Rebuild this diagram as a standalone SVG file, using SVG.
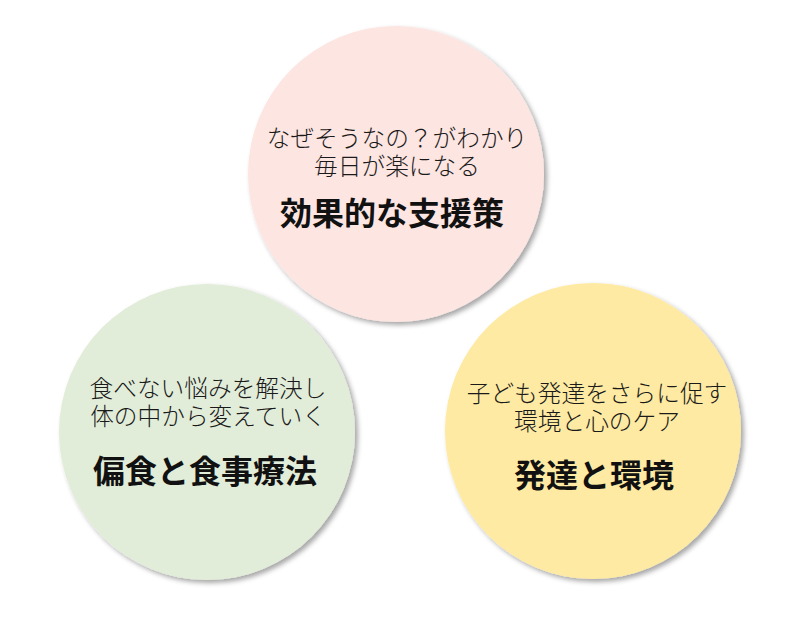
<svg xmlns="http://www.w3.org/2000/svg" width="800" height="628" viewBox="0 0 800 628">
<defs>
<filter id="sh" x="-20%" y="-20%" width="140%" height="140%">
<feDropShadow dx="3" dy="3" stdDeviation="2.5" flood-color="#000" flood-opacity="0.35"/>
</filter>
</defs>
<style>
.c{filter:url(#sh);}
.s{font-family:"Noto Sans CJK JP","Noto Sans CJK SC",sans-serif;font-size:23.7px;font-weight:300;fill:#1a1a1a;text-anchor:middle;}
.t{font-family:"Noto Sans CJK JP","Noto Sans CJK SC",sans-serif;font-size:32px;font-weight:bold;fill:#111;text-anchor:middle;}
</style>
<rect width="800" height="628" fill="#fff"/>
<g id="connectors"></g>
<g id="node-top">
<circle class="c" cx="396" cy="174" r="148" fill="#FDE5E1"/>
<text class="s" x="397" y="147">なぜそうなの？がわかり</text>
<text class="s" x="397" y="175">毎日が楽になる</text>
<text class="t" x="392" y="225">効果的な支援策</text>
</g>
<g id="node-left">
<circle class="c" cx="207" cy="432" r="148" fill="#E2EDD9"/>
<text class="s" x="208" y="397">食べない悩みを解決し</text>
<text class="s" x="208" y="425">体の中から変えていく</text>
<text class="t" x="205" y="483">偏食と食事療法</text>
</g>
<g id="node-right">
<circle class="c" cx="593" cy="431" r="148" fill="#FEEAA2"/>
<text class="s" x="597" y="402">子ども発達をさらに促す</text>
<text class="s" x="597" y="430">環境と心のケア</text>
<text class="t" x="594" y="487">発達と環境</text>
</g>
</svg>
